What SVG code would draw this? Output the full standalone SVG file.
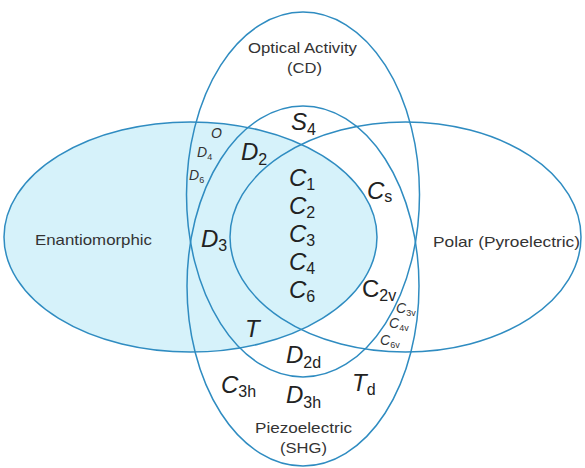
<svg xmlns="http://www.w3.org/2000/svg" width="585" height="468" viewBox="0 0 585 468">
<style>
.set{fill:none;stroke:#2f8cc1;stroke-width:1.5}
.fill{fill:#d6f2fa}
.lbl{font-family:"Liberation Sans",Arial,sans-serif;font-size:15px;fill:#333}
.g{font-family:"Liberation Sans",Arial,sans-serif;font-size:24px;fill:#222;font-style:italic}
.g tspan.s{font-size:16px;font-style:normal}
.u{font-style:normal}
.sm{font-family:"Liberation Sans",Arial,sans-serif;font-size:14px;fill:#333;font-style:italic}
.sm tspan.s{font-size:9px;font-style:normal}
</style>
<rect width="585" height="468" fill="#ffffff"/>
<g id="enantiomorphic">
<ellipse class="fill" cx="190.5" cy="237" rx="186.5" ry="115"/>
</g>
<g id="connectors"></g>
<g id="sets">
<ellipse id="enantiomorphic-edge" class="set" cx="190.5" cy="237" rx="186.5" ry="115"/>
<ellipse id="polar" class="set" cx="405.5" cy="237" rx="175.5" ry="115"/>
<ellipse id="optical-activity" class="set" cx="303" cy="194.5" rx="116.5" ry="182.5"/>
<ellipse id="piezoelectric" class="set" cx="303" cy="286" rx="116" ry="180"/>
</g>
<g id="set-labels">
<text class="lbl" x="248" y="53" textLength="109" lengthAdjust="spacingAndGlyphs">Optical Activity</text>
<text class="lbl" x="287" y="73" textLength="35" lengthAdjust="spacingAndGlyphs">(CD)</text>
<text class="lbl" x="35" y="245" textLength="117" lengthAdjust="spacingAndGlyphs">Enantiomorphic</text>
<text class="lbl" x="433" y="247" textLength="147" lengthAdjust="spacingAndGlyphs">Polar (Pyroelectric)</text>
<text class="lbl" x="255" y="433" textLength="97" lengthAdjust="spacingAndGlyphs">Piezoelectric</text>
<text class="lbl" x="280" y="453" textLength="47" lengthAdjust="spacingAndGlyphs">(SHG)</text>
</g>
<g id="point-groups">
<text class="g" x="291" y="130">S<tspan class="s" dy="5">4</tspan></text>
<text class="g" x="241" y="160">D<tspan class="s" dy="5">2</tspan></text>
<text class="g" x="289" y="186">C<tspan class="s" dy="4">1</tspan></text>
<text class="g" x="289" y="214">C<tspan class="s" dy="4">2</tspan></text>
<text class="g" x="289" y="242">C<tspan class="s" dy="4">3</tspan></text>
<text class="g" x="289" y="270">C<tspan class="s" dy="4">4</tspan></text>
<text class="g" x="289" y="298">C<tspan class="s" dy="4">6</tspan></text>
<text class="g" x="367" y="199">C<tspan class="s" dy="3">s</tspan></text>
<text class="g" x="201" y="247">D<tspan class="s" dy="4">3</tspan></text>
<text class="g u" x="362" y="297">C<tspan class="s" dy="4">2v</tspan></text>
<text class="g" x="245" y="337">T</text>
<text class="g" x="286" y="363">D<tspan class="s" dy="5">2d</tspan></text>
<text class="g" x="221" y="393">C<tspan class="s" dy="4">3h</tspan></text>
<text class="g" x="286" y="403">D<tspan class="s" dy="5">3h</tspan></text>
<text class="g" x="352" y="391">T<tspan class="s" dy="4">d</tspan></text>
<text class="sm" x="211" y="138">O</text>
<text class="sm" x="197" y="157">D<tspan class="s" dy="3">4</tspan></text>
<text class="sm" x="189" y="180">D<tspan class="s" dy="3">6</tspan></text>
<text class="sm u" x="396" y="313">C<tspan class="s" dy="3">3v</tspan></text>
<text class="sm u" x="389" y="328">C<tspan class="s" dy="3">4v</tspan></text>
<text class="sm u" x="380" y="345">C<tspan class="s" dy="3">6v</tspan></text>
</g>
</svg>
